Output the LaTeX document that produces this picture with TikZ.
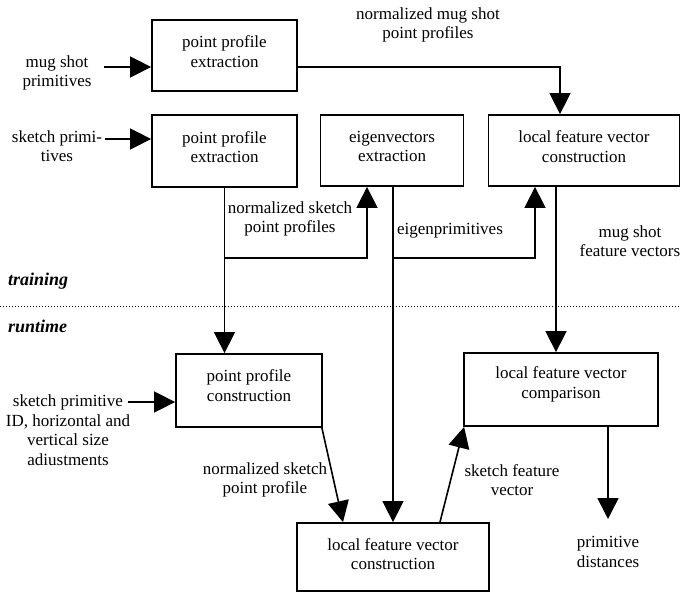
\documentclass[tikz,border=0pt]{standalone}
\usepackage{fontspec}
\setmainfont{Liberation Serif}
\usetikzlibrary{arrows.meta,calc}
\begin{document}
\begin{tikzpicture}[x=1pt,y=-1pt,
  box/.style={draw,line width=1.8pt,inner sep=0pt},
  btxt/.style={align=center,inner sep=0pt,font=\fontsize{17}{19.5}\selectfont},
  lbl/.style={align=center,inner sep=0pt,font=\fontsize{17}{19.5}\selectfont},
  phase/.style={anchor=west,inner sep=0pt,font=\fontsize{18}{20}\selectfont\bfseries\itshape},
  arr/.style={line width=1.6pt,-{Triangle[width=21pt,length=21pt]}},
  ln/.style={line width=1.6pt}]
\useasboundingbox (0,0) rectangle (681,594);
% boxes
\node[box,minimum width=145pt,minimum height=71pt] (A) at (224.5,55.5) {};
\node[box,minimum width=145pt,minimum height=72pt] (B) at (224.5,151) {};
\node[box,minimum width=143pt,minimum height=71pt] (C) at (392,150.5) {};
\node[box,minimum width=191pt,minimum height=71pt] (D) at (584,150.5) {};
\node[box,minimum width=146pt,minimum height=73pt] (P) at (249,390.5) {};
\node[box,minimum width=194pt,minimum height=73pt] (M) at (561,389.5) {};
\node[box,minimum width=192pt,minimum height=68pt] (L) at (393,557) {};
\node[btxt] (Atx) at ([yshift=4pt]A.center) {point profile\\extraction};
\node[btxt] (Btx) at ([yshift=4pt]B.center) {point profile\\extraction};
\node[btxt] (Ctx) at ([yshift=4pt]C.center) {eigenvectors\\extraction};
\node[btxt] (Dtx) at ([yshift=4pt]D.center) {local feature vector\\construction};
\node[btxt] (Ptx) at ([yshift=5pt]P.center) {point profile\\construction};
\node[btxt] (Mtx) at ([yshift=5pt]M.center) {local feature vector\\comparison};
\node[btxt] (Ltx) at ([yshift=3pt]L.center) {local feature vector\\construction};
% labels
\node[lbl] (t1) at (57,73) {mug shot\\primitives};
\node[lbl] (t2) at (57,146) {sketch primi-\\tives};
\node[lbl] (t3) at (428,25) {normalized mug shot\\point profiles};
\node[lbl] (t4) at (290,219) {normalized sketch\\point profiles};
\node[lbl] (t5) at (450,231) {eigenprimitives};
\node[lbl] (t6) at (630,241) {mug shot\\feature vectors};
\node[lbl] (t7) at (68,430) {sketch primitive\\ID, horizontal and\\vertical size\\adiustments};
\node[lbl] (t8) at (265,480) {normalized sketch\\point profile};
\node[lbl] (t9) at (512,480) {sketch feature\\vector};
\node[lbl] (t10) at (608,552) {primitive\\distances};
\node[phase] (tr) at (8,281) {training};
\node[phase] (rt) at (8,326) {runtime};
% dotted separator
\coordinate (s1) at (0,306);
\coordinate (s2) at (681,306);
\draw[dotted,line width=1pt] (s1) -- (s2);
% connectors
\coordinate (in1) at (104,67);
\coordinate (in2) at (105,139);
\coordinate (in3) at (128,402);
\draw[arr] (in1) -- (in1 -| A.west);
\draw[arr] (in2) -- (in2 -| B.west);
\draw[arr] (in3) -- (in3 -| P.west);
\draw[arr] ([yshift=-11.5pt]A.east) -| ([xshift=-24pt]D.north);
\draw[arr] (B.south) -- (B.south |- P.north);
\coordinate (j1) at (224.5,258);
\draw[arr] (j1) -| ([xshift=-25pt]C.south);
\draw[arr] (L.north |- C.south) -- (L.north);
\coordinate (j2) at (393,258);
\draw[arr] (j2) -| ([xshift=-49pt]D.south);
\draw[arr] ([xshift=-28pt]D.south) -- ([xshift=-28pt]D.south |- M.north);
\draw[arr] ([xshift=-1pt]P.south east) -- ([xshift=-50pt]L.north);
\draw[arr] ([xshift=47pt]L.north) -- ([xshift=1pt]M.south west);
\coordinate (out) at (608,519);
\draw[arr] (M.south -| out) -- (out);
\end{tikzpicture}
\end{document}
